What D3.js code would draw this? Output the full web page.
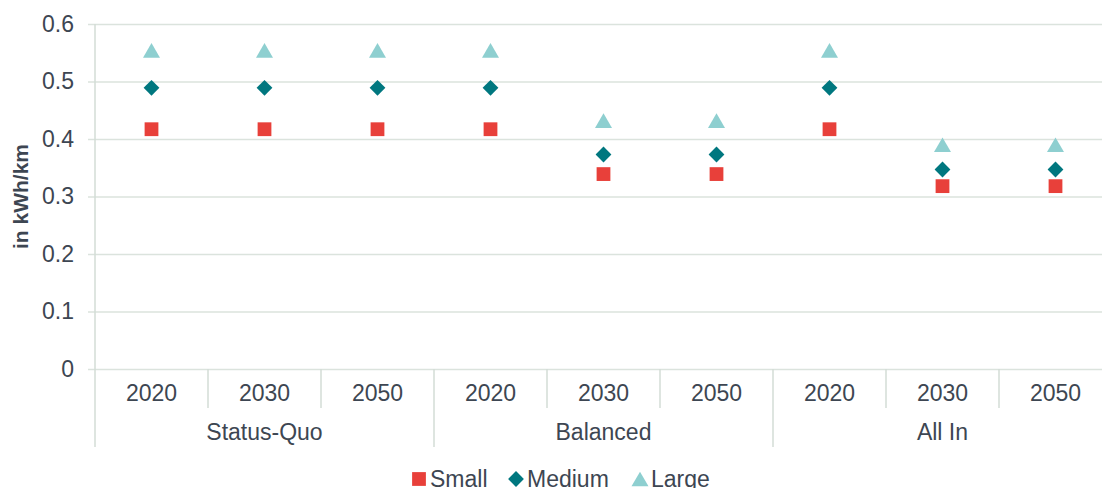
<!DOCTYPE html>
<html>
<head>
<meta charset="utf-8">
<script src="https://cdn.jsdelivr.net/npm/d3@7"></script>
<style>
  body { margin: 0; background: #fff; }
  svg { display: block; font-family: "Liberation Sans", Arial, sans-serif; }
</style>
</head>
<body>
<script>
var groups = ['Status-Quo', 'Balanced', 'All In'];
var years = ['2020', '2030', '2050'];
var categories = [];
groups.forEach(function(g) { years.forEach(function(y) { categories.push(g + '|' + y); }); });

var small  = [0.417, 0.417, 0.417, 0.417, 0.339, 0.339, 0.417, 0.318, 0.318];
var medium = [0.489, 0.489, 0.489, 0.489, 0.373, 0.373, 0.489, 0.347, 0.347];
var large  = [0.554, 0.554, 0.554, 0.554, 0.432, 0.432, 0.554, 0.390, 0.390];
var yTicks = [0, 0.1, 0.2, 0.3, 0.4, 0.5, 0.6];

// diamond = square turned 45deg; triangle shifted so its box is centred on the value
var triSize = 125;
var triShift = Math.sqrt(triSize / (Math.sqrt(3) * 3)) / 2;
var series = [
    { name: 'Small',  values: small,  color: '#e8403a', shape: d3.symbolSquare,   size: 190, rot: 0,  dy: 0 },
    { name: 'Medium', values: medium, color: '#00777f', shape: d3.symbolSquare,   size: 125, rot: 45, dy: 0 },
    { name: 'Large',  values: large,  color: '#8ecfd0', shape: d3.symbolTriangle, size: triSize, rot: 0, dy: triShift }
];

var width = 1102, height = 488;
var plotLeft = 95, plotRight = 1112, plotTop = 24, plotBottom = 369;
var textColor = '#3d4652', gridColor = '#dbe3dd', axisColor = '#d3ddd6';

var svg = d3.select('body').append('svg')
    .attr('width', width)
    .attr('height', height);

var x = d3.scaleBand().domain(categories).range([plotLeft, plotRight]);
var y = d3.scaleLinear().domain([0, 0.6]).range([plotBottom, plotTop]);

// gridlines + y labels
var yAxis = svg.append('g')
    .attr('transform', 'translate(' + plotLeft + ',0)')
    .call(d3.axisLeft(y).tickValues(yTicks).tickFormat(function(d) { return d === 0 ? '0' : d3.format('.1f')(d); })
        .tickSize(-(plotRight - plotLeft)));
yAxis.select('.domain').remove();
yAxis.selectAll('.tick line').attr('stroke', gridColor).attr('stroke-width', 1.3).attr('x1', -7);
yAxis.selectAll('.tick text').attr('fill', textColor).attr('font-size', 23).attr('x', -21);

// vertical axis line
svg.append('line')
    .attr('x1', plotLeft).attr('x2', plotLeft)
    .attr('y1', plotTop).attr('y2', 447)
    .attr('stroke', axisColor).attr('stroke-width', 1.5);

// category separators
categories.forEach(function(c, i) {
    if (i === 0) return;
    var isGroup = i % years.length === 0;
    svg.append('line')
        .attr('x1', x(c)).attr('x2', x(c))
        .attr('y1', plotBottom).attr('y2', isGroup ? 447 : 408)
        .attr('stroke', axisColor).attr('stroke-width', 1.5);
});

// year labels
svg.selectAll('.year').data(categories).enter().append('text')
    .attr('class', 'year')
    .attr('x', function(d) { return x(d) + x.bandwidth() / 2; })
    .attr('y', 401)
    .attr('text-anchor', 'middle')
    .attr('font-size', 23)
    .attr('fill', textColor)
    .text(function(d) { return d.split('|')[1]; });

// group labels
svg.selectAll('.group').data(groups).enter().append('text')
    .attr('class', 'group')
    .attr('x', function(g) { return x(g + '|' + years[1]) + x.bandwidth() / 2; })
    .attr('y', 440)
    .attr('text-anchor', 'middle')
    .attr('font-size', 23)
    .attr('fill', textColor)
    .text(function(g) { return g; });

// markers
series.forEach(function(s) {
    svg.append('g').selectAll('path').data(s.values).enter().append('path')
        .attr('d', d3.symbol().type(s.shape).size(s.size))
        .attr('transform', function(d, i) {
            return 'translate(' + (x(categories[i]) + x.bandwidth() / 2) + ',' + (y(d) + s.dy) + ') rotate(' + s.rot + ')';
        })
        .attr('fill', s.color);
});

// y title
svg.append('text')
    .attr('transform', 'translate(28,' + ((plotTop + plotBottom) / 2) + ') rotate(-90)')
    .attr('text-anchor', 'middle')
    .attr('font-size', 21)
    .attr('font-weight', 'bold')
    .attr('fill', textColor)
    .text('in kWh/km');

// legend
var legendX = [419, 516, 640];
var legend = svg.selectAll('.legend').data(series).enter().append('g')
    .attr('class', 'legend')
    .attr('transform', function(d, i) { return 'translate(' + legendX[i] + ',479)'; });
legend.append('path')
    .attr('d', function(d) { return d3.symbol().type(d.shape).size(d.size)(); })
    .attr('transform', function(d) { return 'translate(0,' + d.dy + ') rotate(' + d.rot + ')'; })
    .attr('fill', function(d) { return d.color; });
legend.append('text')
    .attr('x', 11)
    .attr('y', 8)
    .attr('font-size', 23)
    .attr('fill', textColor)
    .text(function(d) { return d.name; });
</script>
</body>
</html>
